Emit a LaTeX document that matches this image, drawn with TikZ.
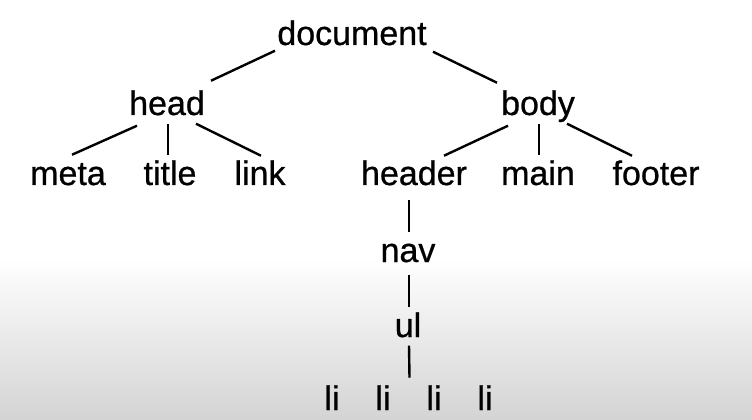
\documentclass[tikz,border=0pt]{standalone}
\usepackage{fontspec}
\setmainfont[FakeBold=0.7]{Liberation Sans}
\usetikzlibrary{calc, positioning}
\tikzset{
    tag/.style={
        font=\fontsize{25.5pt}{30pt}\selectfont,
        anchor=base,
        inner sep=2.25pt,
        text height=18.75pt,
        text depth=5.6pt
    },
    link_line/.style={
        line width=1.8pt,
        line cap=butt
    }
}

\begin{document}
\begin{tikzpicture}[x=0.75pt, y=-0.75pt]

% --- Background ---
\fill[white] (0,0) rectangle (752,420);
\shade[top color=white, bottom color=black!17] (0,258) rectangle (752,420);
\useasboundingbox (0,0) rectangle (752,420);

% --- Root ---
\node[tag] (doc) at (352,45) {document};

% --- Level 1 ---
\node[tag] (head) at (167,115) {head};
\node[tag] (body) at (538,115) {body};

% --- Level 2 ---
\node[tag] (meta) at (68,185) {meta};
\node[tag] (title) at (170,185) {title};
\node[tag] (link) at (260,185) {link};
\node[tag] (header) at (414,185) {header};
\node[tag] (main) at (538,185) {main};
\node[tag] (footer) at (656,185) {footer};

% --- Navigation chain ---
\node[tag] (nav) at (408,262) {nav};
\node[tag] (ul) at (408,337) {ul};
\node[tag] (li1) at (332,410) {li};
\node[tag] (li2) at (383,410) {li};
\node[tag] (li3) at (434,410) {li};
\node[tag] (li4) at (485,410) {li};
\coordinate (lirow) at ($(li2.north)!0.5!(li3.north)$);

% --- Edges ---
\draw[link_line] ($(doc.south)+(-77,-5)$) -- ($(head.north)+(44,-6)$);
\draw[link_line] ($(doc.south)+(81,-4)$) -- ($(body.north)+(-41,-4)$);

\draw[link_line] ($(head.south)+(-30,0)$) -- ($(meta.north)+(4,-2)$);
\draw[link_line] ($(title.north)+(-2,-2)$) -- ($(title.north |- head.south)+(-2,-2)$);
\draw[link_line] ($(head.south)+(29,-2)$) -- ($(link.north)+(1,-1)$);

\draw[link_line] ($(body.south)+(-30,0)$) -- ($(header.north)+(30,-1)$);
\draw[link_line] ($(main.north)+(1,-2)$) -- ($(main.north |- body.south)+(1,-2)$);
\draw[link_line] ($(body.south)+(29,-2)$) -- ($(footer.north)+(-24,-1)$);

\draw[link_line] ($(nav.north)+(1,-2)$) -- ($(nav.north |- header.south)+(1,4)$);
\draw[link_line] ($(ul.north)+(1,-2)$) -- ($(ul.north |- nav.south)+(1,2)$);
\draw[link_line] ($(lirow)+(1,-4)$) -- ($(ul.south)+(1,-2)$);

\end{tikzpicture}
\end{document}
